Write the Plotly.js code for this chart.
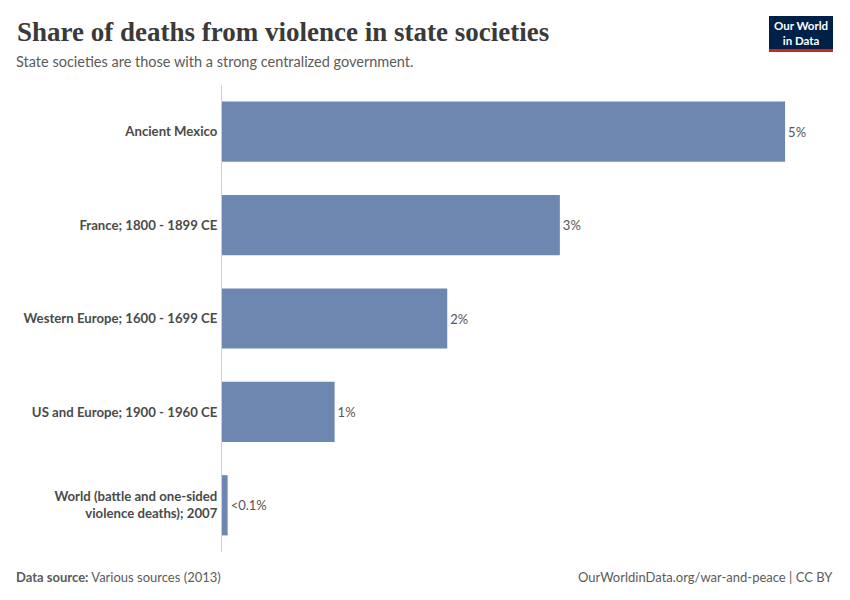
<!DOCTYPE html>
<html><head><meta charset="utf-8">
<script src="https://cdn.plot.ly/plotly-3.0.1.min.js"></script>
<style>body{margin:0;background:#fff}#c{width:850px;height:600px}</style>
</head><body><div id="c"></div>
<script>
const categories = [
  "Ancient Mexico",
  "France; 1800 - 1899 CE",
  "Western Europe; 1600 - 1699 CE",
  "US and Europe; 1900 - 1960 CE",
  "World (battle and one-sided<br>violence deaths); 2007"
];
const shares = [5, 3, 2, 1, 0.05];
const valueLabels = ["5%", "3%", "2%", "1%", "<0.1%"];

const PW = 598, PH = 467, L = 222, T = 85;
const px = v => (v - L) / PW;
const py = v => 1 + (T - v) / PH;

const trace = {
  type: 'bar', orientation: 'h',
  y: categories, x: shares, text: valueLabels,
  textposition: 'outside', cliponaxis: false,
  textfont: {family: 'Lato', size: 13, color: '#555'},
  marker: {color: '#6D87B0'},
  hoverinfo: 'none'
};
const layout = {
  width: 850, height: 600,
  paper_bgcolor: '#fff', plot_bgcolor: '#fff',
  margin: {l: L, r: 850 - L - PW, t: T, b: 600 - T - PH},
  bargap: 0.355,
  showlegend: false,
  xaxis: {range: [0, 5.31], showgrid: false, zeroline: false, showticklabels: false, fixedrange: true},
  yaxis: {autorange: 'reversed', showgrid: false, zeroline: false, showline: true, linecolor: '#d0d0d0', linewidth: 1,
          ticks: '', ticklabelstandoff: 1,
          tickfont: {family: 'Lato', size: 13.2, color: '#4a4a4a', weight: 'bold'}},
  annotations: [
    {xref: 'paper', yref: 'paper', x: px(15), y: py(32), xanchor: 'left', yanchor: 'middle', showarrow: false,
     text: 'Share of deaths from violence in state societies',
     font: {family: 'Liberation Serif, DejaVu Serif, serif', size: 27, color: '#3a3a3a', weight: 'bold'}},
    {xref: 'paper', yref: 'paper', x: px(14), y: py(61), xanchor: 'left', yanchor: 'middle', showarrow: false,
     text: 'State societies are those with a strong centralized government.',
     font: {family: 'Lato', size: 14.5, color: '#5b5b5b'}},
    {xref: 'paper', yref: 'paper', x: px(14), y: py(577), xanchor: 'left', yanchor: 'middle', showarrow: false,
     text: '<b>Data source:</b> Various sources (2013)',
     font: {family: 'Lato', size: 13, color: '#5b5b5b'}},
    {xref: 'paper', yref: 'paper', x: px(835), y: py(577), xanchor: 'right', yanchor: 'middle', showarrow: false,
     text: 'OurWorldinData.org/war-and-peace | CC BY',
     font: {family: 'Lato', size: 13, color: '#5b5b5b'}},
    {xref: 'paper', yref: 'paper', x: px(801), y: py(33), xanchor: 'center', yanchor: 'middle', showarrow: false,
     text: '<b>Our World</b><br><b>in Data</b>',
     font: {family: 'Lato', size: 11.5, color: '#fff'}}
  ],
  shapes: [
    {type: 'rect', xref: 'paper', yref: 'paper', x0: px(769), x1: px(833),
     y0: py(49), y1: py(16), fillcolor: '#002147', line: {width: 0}, layer: 'below'},
    {type: 'rect', xref: 'paper', yref: 'paper', x0: px(769), x1: px(833),
     y0: py(52), y1: py(49), fillcolor: '#ce261e', line: {width: 0}}
  ]
};
Plotly.newPlot('c', [trace], layout, {displayModeBar: false, staticPlot: true});
</script></body></html>
